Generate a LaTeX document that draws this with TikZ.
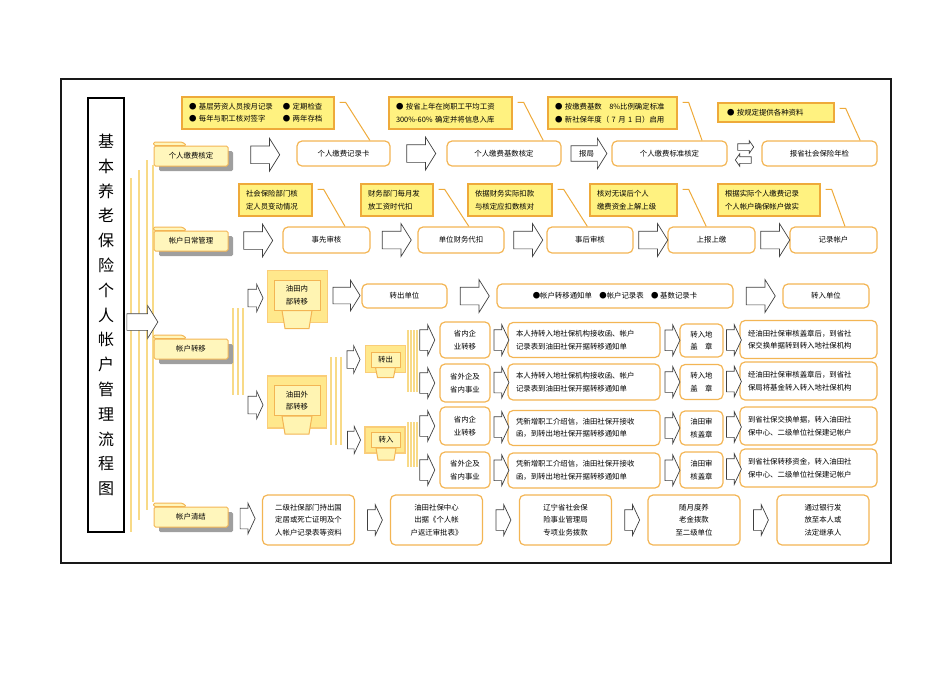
\documentclass[tikz,border=0pt]{standalone}
\usepackage{fontspec}
\setmainfont{Noto Sans CJK SC}
\usetikzlibrary{calc,shapes.arrows,shadows,backgrounds}

\definecolor{boxline}{RGB}{243,181,84}
\definecolor{noteline}{RGB}{238,170,58}
\definecolor{notefill}{RGB}{255,242,128}
\definecolor{tabfill}{RGB}{255,246,188}
\definecolor{railcol}{RGB}{248,218,135}
\definecolor{unitfill}{RGB}{255,232,140}
\definecolor{unitinner}{RGB}{255,244,178}
\definecolor{unitedge}{RGB}{250,205,120}

\newcommand{\smallcn}{\fontsize{7.4}{12.5}\selectfont}

\tikzset{
  procbox/.style={draw=boxline, line width=1.2pt, rounded corners=5pt, fill=white,
    align=center, inner sep=2pt, font=\smallcn},
  longbox/.style={procbox, align=left, inner xsep=8pt},
  notebox/.style={draw=noteline, line width=1.3pt, fill=notefill, align=left,
    inner xsep=7pt, inner ysep=2pt, font=\smallcn},
  notetail/.style={draw=noteline, line width=1pt},
  tabbox/.style={draw=boxline, line width=1pt, fill=tabfill, rounded corners=1.5pt,
    minimum width=74pt, minimum height=20pt, font=\smallcn,
    drop shadow={shadow xshift=5pt, shadow yshift=-5pt, fill=gray!75, opacity=1}},
  tabtop/.style={draw=boxline, line width=1pt, fill=tabfill, rounded corners=1.5pt},
  barrow/.style={single arrow, draw=gray!50!black, fill=white, line width=.7pt,
    inner xsep=0pt, inner ysep=8.5pt, minimum height=29pt,
    single arrow head extend=7.5pt, single arrow tip angle=116},
  sarrow/.style={barrow, inner ysep=10pt, minimum height=15pt,
    single arrow head extend=5pt, single arrow tip angle=130},
  dblarrow/.style={barrow, inner ysep=3pt, minimum height=16pt,
    single arrow head extend=3pt, single arrow tip angle=110},
  railline/.style={draw=railcol, line width=1.6pt},
  unitbox/.style={draw=boxline, line width=1pt, fill=unitinner, align=center,
    inner sep=0pt, minimum width=46pt, minimum height=30pt, font=\smallcn},
  unitout/.style={draw=unitedge, line width=1.2pt, fill=unitfill},
  unitstand/.style={draw=boxline, line width=1pt, fill=unitinner},
  titlebox/.style={draw=black, line width=1.5pt, minimum width=36pt, minimum height=434pt,
    align=center, font=\fontsize{16}{24.8}\selectfont}
}

\begin{document}
\begin{tikzpicture}[x=1pt,y=-1pt]
\useasboundingbox (0,0) rectangle (950,673);
\draw[gray!20!black, line width=1.5pt] (61,79) rectangle (891,563);

\foreach \x/\ya/\yb in {131/178/532, 139/170/520, 147/160/510, 153/165/502,
    233/308/395, 238/308/395, 243/308/395, 331/357/445, 336/357/445, 341/357/445,
    408/330/392, 411/330/392, 414/330/392, 417/330/392,
    408/422/467, 411/422/467, 414/422/467, 417/422/467}
  \draw[railline] (\x,\ya) -- (\x,\yb);

\node[titlebox] (title) at (106,315) {基\\本\\养\\老\\保\\险\\个\\人\\帐\\户\\管\\理\\流\\程\\图};

\foreach \pos/\name/\txt in {{(191,156)/tab1/个人缴费核定}, {(191,241)/tab2/帐户日常管理},
    {(191,349)/tab3/帐户转移}, {(191,517)/tab4/帐户清结}}
  \node[tabbox] (\name) at \pos {\txt};
\foreach \tabn in {tab1,tab2,tab3,tab4}
  \path[tabtop] (\tabn.north west) -- ++(0,-3.5) -- ++(29,0) -- ++(4,3.5) -- cycle;

\foreach \pos/\boxw/\name/\txt in {{(343.5,153.5)/93/r1a/个人缴费记录卡}, {(504,153.5)/114/r1b/个人缴费基数核定},
    {(669.5,153.5)/115/r1c/个人缴费标准核定}, {(819.5,153.5)/115/r1d/报省社会保险年检}}
  \node[procbox, minimum width=\boxw, minimum height=25] (\name) at \pos {\txt};

\foreach \pos/\boxw/\name/\txt in {{(326.5,240)/87/r2a/事先审核}, {(461,240)/86/r2b/单位财务代扣},
    {(590,240)/86/r2c/事后审核}, {(711.5,240)/87/r2d/上报上缴}, {(833.5,240)/87/r2e/记录帐户}}
  \node[procbox, minimum width=\boxw, minimum height=26] (\name) at \pos {\txt};

\foreach \pos/\boxw/\name/\txt in {{(404.5,296)/85/r3a/转出单位},
    {(615,296)/236/r3b/●帐户转移通知单\quad ●帐户记录表\quad ● 基数记录卡}, {(826,296)/86/r3c/转入单位}}
  \node[procbox, minimum width=\boxw, minimum height=24] (\name) at \pos {\txt};

\node[unitbox] (nei) at (297,295) {油田内\\部转移};
\node[unitbox] (wai) at (297,400.5) {油田外\\部转移};
\node[unitbox, minimum width=29pt, minimum height=15pt] (chu) at (385.5,359.5) {转出};
\node[unitbox, minimum width=29pt, minimum height=15pt] (ru) at (386,440) {转入};
\begin{scope}[on background layer]
  \foreach \unit/\padl/\padt/\padr/\padb/\topw/\botw/\stand in {nei/6/9/7/12/15/12/18,
      wai/6/9/6/12/15/12/18, chu/5/6/5/5/10/8/10, ru/6/5/4/5/10/8/12} {
    \path[unitout] ($(\unit.north west)+(-\padl,-\padt)$) rectangle ($(\unit.south east)+(\padr,\padb)$);
    \path[unitstand] ($(\unit.south)+(-\topw,0)$) -- ($(\unit.south)+(\topw,0)$)
      -- ($(\unit.south)+(\botw,\stand)$) -- ($(\unit.south)+(-\botw,\stand)$) -- cycle;
  }
\end{scope}

\foreach \pos/\boxh/\name/\txt in {{(465,340)/36/ta/省内企\\业转移}, {(465,383)/38/tb/省外企及\\省内事业},
    {(465,426)/38/tc/省内企\\业转移}, {(465,470)/36/td/省外企及\\省内事业}}
  \node[procbox, minimum width=50, minimum height=\boxh] (\name) at \pos {\txt};

\foreach \pos/\boxh/\name/\txt in {
    {(584,340)/35/ya/本人持转入地社保机构接收函、帐户\\记录表到油田社保开据转移通知单},
    {(584,382)/36/yb/本人持转入地社保机构接收函、帐户\\记录表到油田社保开据转移通知单},
    {(584,428)/35/yc/凭新增职工介绍信，油田社保开接收\\函，到转出地社保开据转移通知单},
    {(584,470.5)/35/yd/凭新增职工介绍信，油田社保开接收\\函，到转出地社保开据转移通知单}}
  \node[longbox, text width=136, minimum height=\boxh] (\name) at \pos {\txt};

\foreach \pos/\boxh/\name/\txt in {{(701.5,340.5)/33/sa/转入地\\盖\hspace{1em}章}, {(701.5,382)/35/sb/转入地\\盖\hspace{1em}章},
    {(701.5,428)/34/sc/油田审\\核盖章}, {(701.5,470)/36/sd/油田审\\核盖章}}
  \node[procbox, minimum width=43, minimum height=\boxh] (\name) at \pos {\txt};

\foreach \pos/\name/\txt in {
    {(808.5,339.5)/ra/经油田社保审核盖章后，到省社\\保交换单据转到转入地社保机构},
    {(808.5,381)/rb/经油田社保审核盖章后，到省社\\保局将基金转入转入地社保机构},
    {(808.5,426)/rc/到省社保交换单据，转入油田社\\保中心、二级单位社保建记帐户},
    {(808.5,468)/rd/到省社保转移资金，转入油田社\\保中心、二级单位社保建记帐户}}
  \node[longbox, text width=121, minimum height=38] (\name) at \pos {\txt};

\foreach \pos/\name/\txt in {{(308.5,520)/q1/二级社保部门持出国\\定居或死亡证明及个\\人帐户记录表等资料},
    {(436.5,520)/q2/油田社保中心\\出据《个人帐\\户返迁审批表》},
    {(565.5,520)/q3/辽宁省社会保\\险事业管理局\\专项业务拨款},
    {(694,520)/q4/随月度养\\老金拨款\\至二级单位}, {(823,520)/q5/通过银行发\\放至本人或\\法定继承人}}
  \node[procbox, minimum width=92, minimum height=50] (\name) at \pos {\txt};

\foreach \src/\dst in {tab1/r1a, r1a/r1b, tab2/r2a, r2a/r2b, r2b/r2c, r2c/r2d, r2d/r2e, r3a/r3b, r3b/r3c}
  \node[barrow] at ($(\src.east)!.5!(\dst.west)$) {};
\foreach \src/\dst in {ta/ya, tb/yb, tc/yc, td/yd, ya/sa, yb/sb, yc/sc, yd/sd,
    sa/ra, sb/rb, sc/rc, sd/rd, tab4/q1, q1/q2, q2/q3, q3/q4, q4/q5}
  \node[sarrow] at ($(\src.east)!.5!(\dst.west)$) {};
\node[barrow, inner ysep=8pt, single arrow head extend=7pt, minimum height=27] at ($(nei.east)!.5!(r3a.west)+(3,0)$) {};
\node[barrow, inner ysep=8pt, minimum height=31, single arrow head extend=8pt] at ($(title.east)+(15,7)$) {};
\node[barrow, inner xsep=2pt, inner ysep=4pt, minimum height=36, font=\smallcn] at ($(r1b.east)!.5!(r1c.west)$) {报局};
\node[dblarrow] at ($(r1c.east)!.5!(r1d.west)+(0,-6.5)$) {};
\node[dblarrow, shape border rotate=180] at ($(r1c.east)!.5!(r1d.west)+(0,6.5)$) {};
\node[sarrow, inner ysep=8.5pt] at ($(nei.west)+(-20,3)$) {};
\node[sarrow, inner ysep=8.5pt] at ($(wai.west)+(-20,4.5)$) {};
\node[sarrow, inner ysep=8.5pt, minimum height=13] at ($(chu.west)+(-19,0)$) {};
\node[sarrow, inner ysep=8.5pt, minimum height=13] at ($(ru.west)+(-19,0)$) {};
\foreach \name in {ta,tb,tc,td}
  \node[sarrow] at ($(\name.west)+(-14.5,0)$) {};

\node[notebox, text width=138, minimum height=32] (c1) at (258,113)
  {\begin{tabular}{@{}l@{\hspace{10pt}}l@{}}● 基层劳资人员按月记录 & ● 定期检查\\ ● 每年与职工核对签字 & ● 两年存档\end{tabular}};
\foreach \pos/\boxw/\boxh/\name/\txt in {
    {(450.5,113)/109/32/c2/● 按省上年在岗职工平均工资\\300\%-60\% 确定并将信息入库},
    {(612.5,113)/115/32/c3/● 按缴费基数\quad 8\%比例确定标准\\● 新社保年度（ 7 月 1 日）启用},
    {(776,112.5)/102/19/c4/\hspace{2pt}● 按规定提供各种资料},
    {(275.5,200)/59/32/d1/社会保险部门核\\定人员变动情况}, {(397,200)/58/32/d2/财务部门每月发\\放工资时代扣},
    {(510,200)/70/32/d3/依据财务实际扣款\\与核定应扣数核对}, {(633.5,200)/73/32/d4/核对无误后个人\\缴费资金上解上级},
    {(769,200)/88/32/d5/根据实际个人缴费记录\\个人帐户确保帐户做实}}
  \node[notebox, text width=\boxw, minimum height=\boxh] (\name) at \pos {\txt};

\foreach \note/\target/\frc in {c1/r1a/.78, c2/r1b/.84, c3/r1c/.78, c4/r1d/.85,
    d1/r2a/.71, d2/r2b/.59, d3/r2c/.47, d4/r2d/.44, d5/r2e/.63}
  \path[notetail] ($(\note.north east)+(5,6)$) -- ++(6,0) -- ($(\target.north west)!\frc!(\target.north east)$);
\end{tikzpicture}
\end{document}
